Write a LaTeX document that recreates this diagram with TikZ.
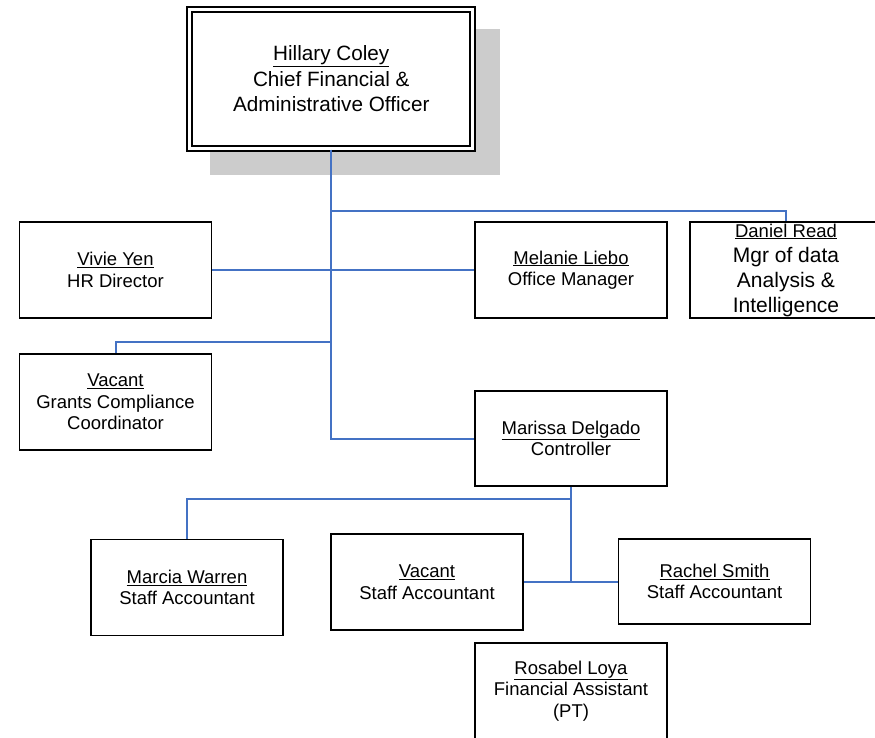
\documentclass[tikz,border=0pt]{standalone}
\usepackage{fontspec}
\setmainfont{Liberation Sans}
\definecolor{connblue}{RGB}{68,114,196}
\definecolor{shadowgray}{RGB}{204,204,204}
\begin{document}
\begin{tikzpicture}[x=1pt,y=-1pt,
  box/.style={draw=black, line width=1.9pt, fill=white, rectangle, inner sep=0pt,
    minimum width=192pt, minimum height=96pt, align=center,
    font=\fontsize{18.5}{21.5}\selectfont},
  conn/.style={draw=connblue, line width=2pt}]
\useasboundingbox (0,0) rectangle (875,738);
\clip (0,0) rectangle (875,738);
\fill[shadowgray] (210,29) rectangle (500,175);
\node[draw=black, double=white, double distance=3pt, line width=1.9pt, fill=white,
  rectangle, inner sep=0pt, minimum width=283pt, minimum height=139pt, align=center,
  font=\fontsize{20.7}{25.5}\selectfont] (ceo) at (331.25,79.1)
  {\underline{Hillary Coley}\\Chief Financial \&\\Administrative Officer};
\node[box] (vivie) at (115.5,270) {\underline{Vivie Yen}\\HR Director};
\node[box] (melanie) at (571,270) {\underline{Melanie Liebo}\\Office Manager};
\node[box, font=\fontsize{21}{25}\selectfont] (daniel) at (786,270)
  {{\fontsize{18.5}{25}\selectfont\underline{Daniel Read}}\\Mgr of data\\Analysis \&\\Intelligence};
\node[box] (grants) at (115.5,402) {\underline{Vacant}\\Grants Compliance\\Coordinator};
\node[box, minimum height=95pt] (marissa) at (571,438.5) {\underline{Marissa Delgado}\\Controller};
\node[box] (marcia) at (187,587.5) {\underline{Marcia Warren}\\Staff Accountant};
\node[box] (vacantsa) at (427,582) {\underline{Vacant}\\Staff Accountant};
\node[box, minimum height=85pt] (rachel) at (714.5,581.5) {\underline{Rachel Smith}\\Staff Accountant};
\node[box] (rosabel) at (571,691) {\underline{Rosabel Loya}\\Financial Assistant\\(PT)};
\coordinate (j1) at (ceo.south |- 0,211);
\coordinate (j2) at (ceo.south |- 0,342);
\coordinate (j3) at (marissa.south |- 0,499);
\coordinate (j4) at (marissa.south |- 0,582);
\draw[conn] (ceo.south) |- (marissa.west);
\draw[conn] (j1) -| (daniel.north);
\draw[conn] (vivie.east) -- (melanie.west);
\draw[conn] (j2) -| (grants.north);
\draw[conn] (marissa.south) -- (j4);
\draw[conn] (j3) -| (marcia.north);
\draw[conn] (vacantsa.east) -- (rachel.west |- vacantsa.east);
\end{tikzpicture}
\end{document}
